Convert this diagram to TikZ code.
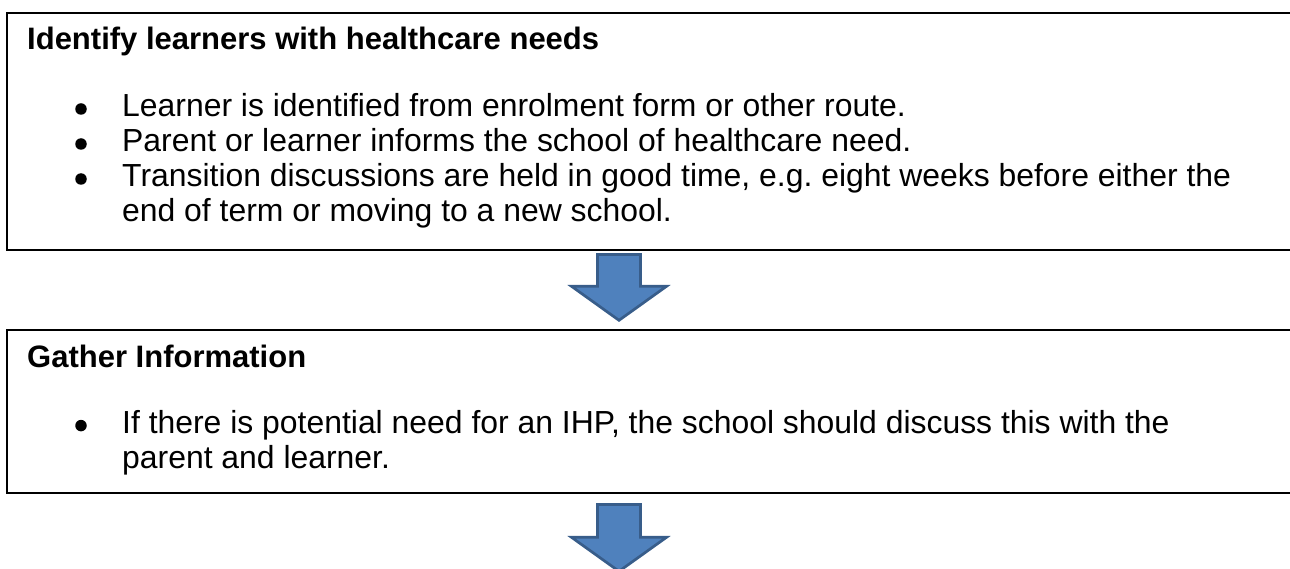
\documentclass[tikz,border=0pt]{standalone}
\usepackage{fontspec}
\setmainfont{Liberation Sans}
\frenchspacing
\definecolor{arrowfill}{HTML}{4F81BD}
\definecolor{arrowline}{HTML}{385D8A}
\begin{document}
\begin{tikzpicture}[x=1pt,y=-1pt,
  box/.style={draw=black, line width=2pt, inner sep=0pt, anchor=north west, minimum width=1300pt},
  title/.style={anchor=base west, inner sep=0pt, font=\fontsize{31}{36}\selectfont\bfseries},
  item/.style={anchor=base west, inner sep=0pt, font=\fontsize{31.9}{36}\selectfont},
  bullet/.style={circle, fill=black, inner sep=0pt, minimum size=11.5pt},
  blockarrow/.style={fill=arrowfill, draw=arrowline, line width=2.7pt, line join=miter}]
\useasboundingbox (0,0) rectangle (1290,569);
\clip (0,0) rectangle (1290,569);
\fill[white] (0,0) rectangle (1290,569);

% Box 1
\node[box, minimum height=237pt] (box1) at (6,12) {};
\node[title] (h1) at (27,50) {Identify learners with healthcare needs};
\node[bullet] (d1) at (81,109) {};
\node[item] (i1) at (122,116.7) {Learner is identified from enrolment form or other route.};
\node[bullet] (d2) at (81,144) {};
\node[item] (i2) at (122,151.7) {Parent or learner informs the school of healthcare need.};
\node[bullet] (d3) at (81,179) {};
\node[item] (i3) at (122,186.7) {Transition discussions are held in good time, e.g.\ eight weeks before either the};
\node[item] (i4) at (122,221.5) {end of term or moving to a new school.};

% Arrow 1
\draw[blockarrow] (597.5,254.5) -- (640.5,254.5) -- (640.5,286.3) -- (666.5,286.3)
  -- (619,320.3) -- (571.5,286.3) -- (597.5,286.3) -- cycle;

% Box 2
\node[box, minimum height=163pt] (box2) at (6,329) {};
\node[title] (h2) at (27,367) {Gather Information};
\node[bullet] (d4) at (81,425.6) {};
\node[item] (i5) at (122,433.3) {If there is potential need for an IHP, the school should discuss this with the};
\node[item] (i6) at (122,468) {parent and learner.};

% Arrow 2
\draw[blockarrow] (597.5,504.5) -- (640.5,504.5) -- (640.5,537.3) -- (666.5,537.3)
  -- (619,571.3) -- (571.5,537.3) -- (597.5,537.3) -- cycle;
\end{tikzpicture}
\end{document}
